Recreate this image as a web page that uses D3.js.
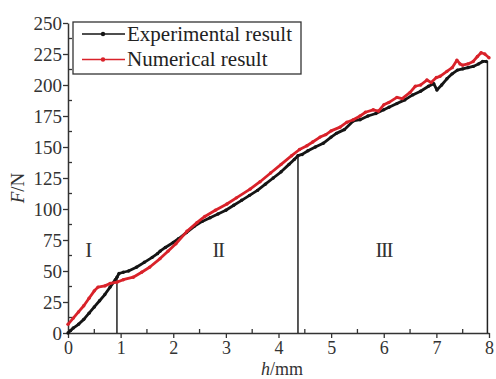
<!DOCTYPE html>
<html>
<head>
<meta charset="utf-8">
<script src="https://cdn.jsdelivr.net/npm/d3@7"></script>
<style>
  body { margin: 0; background: #fff; }
  text { font-family: "Liberation Serif", "Times New Roman", serif; }
</style>
</head>
<body>
<div id="root"></div>
<script>
const WIDTH = 496;
const HEIGHT = 379;
const MARGIN = {top: 23, right: 7, bottom: 46, left: 68};

// experimental curve (h in mm, F in N)
const expH = [0, 0.05, 0.1, 0.2, 0.3, 0.4, 0.5, 0.6, 0.7, 0.8, 0.9, 0.93, 0.97, 1.05, 1.15, 1.3, 1.45, 1.6, 1.7, 1.75, 1.85,
    2.0, 2.1, 2.25, 2.4, 2.55, 2.7, 2.85, 3.0, 3.15, 3.3, 3.45, 3.6, 3.75, 3.9, 4.05, 4.2, 4.3, 4.37, 4.45, 4.56,
    4.7, 4.85, 5.0, 5.1, 5.25, 5.42, 5.55, 5.7, 5.85, 6.0, 6.1, 6.25, 6.4, 6.55, 6.7, 6.85, 6.95, 7.01, 7.1,
    7.2, 7.3, 7.4, 7.5, 7.6, 7.7, 7.8, 7.88, 7.95];
const expF = [0, 2, 4, 7, 11, 16, 21, 26, 31, 37, 43, 45, 48, 49, 50, 53, 57, 61, 64, 66, 69,
    73, 76, 81, 86, 90, 93, 96, 99, 103, 107, 111, 115, 120, 125, 130, 136, 140, 143, 144, 147,
    150, 153, 158, 161, 164, 171, 172, 175, 177, 180, 182, 185, 188, 192, 195, 199, 201, 196, 200,
    205, 209, 212, 213, 214, 215, 217, 219, 219];

// numerical curve
const numH = [0, 0.1, 0.2, 0.3, 0.4, 0.5, 0.57, 0.7, 0.8, 0.93, 1.05, 1.24, 1.4, 1.55, 1.75, 1.9, 2.05, 2.26, 2.45,
    2.6, 2.8, 3.02, 3.2, 3.46, 3.65, 3.85, 4.05, 4.25, 4.4, 4.54, 4.65, 4.79, 4.9, 5.0, 5.17, 5.3, 5.42, 5.55,
    5.65, 5.8, 5.9, 6.0, 6.1, 6.25, 6.35, 6.5, 6.6, 6.7, 6.82, 6.9, 7.0, 7.07, 7.2, 7.3, 7.39, 7.45, 7.5, 7.6,
    7.7, 7.78, 7.85, 7.92, 8.0];
const numF = [7, 12, 17, 22, 28, 34, 37, 38, 40, 41, 43, 45, 49, 53, 60, 66, 72, 82, 89,
    94, 99, 104, 109, 116, 122, 129, 136, 143, 148, 151, 154, 158, 160, 163, 166, 170, 172, 175,
    178, 180, 179, 184, 186, 190, 189, 194, 199, 200, 204, 202, 206, 207, 211, 214, 220, 217, 216, 217,
    219, 223, 226, 225, 222];

// stage boundaries: h and the force where the drop line starts
const boundH = [0.93, 4.37, 7.97];
const boundF = [45, 143, 219];

const stageLabels = ["I", "II", "III"];
const stageH = [0.38, 2.85, 6.0];
const stageF = [67, 67, 67];

const legendNames = ["Experimental result", "Numerical result"];
const colors = ["#151515", "#d9222a"];

const xTicks = [0, 1, 2, 3, 4, 5, 6, 7, 8];
const yTicks = [0, 25, 50, 75, 100, 125, 150, 175, 200, 225, 250];

const x = d3.scaleLinear()
    .domain([0, 8])
    .range([MARGIN.left, WIDTH - MARGIN.right]);

const y = d3.scaleLinear()
    .domain([0, 250])
    .range([HEIGHT - MARGIN.bottom, MARGIN.top]);

const svg = d3.select("#root")
    .append("svg")
    .attr("width", WIDTH)
    .attr("height", HEIGHT);

// minor ticks, pointing inwards
const xMinor = d3.range(0.5, 8, 1);
const yMinor = d3.range(12.5, 250, 25);

svg.append("g")
    .selectAll("line")
    .data(xMinor)
    .join("line")
    .attr("x1", d => x(d)).attr("x2", d => x(d))
    .attr("y1", y(0)).attr("y2", y(0) - 4)
    .attr("stroke", "#333").attr("stroke-width", 1.3);

svg.append("g")
    .selectAll("line")
    .data(yMinor)
    .join("line")
    .attr("x1", x(0)).attr("x2", x(0) + 4)
    .attr("y1", d => y(d)).attr("y2", d => y(d))
    .attr("stroke", "#333").attr("stroke-width", 1.3);

const xAxis = svg.append("g")
    .attr("transform", `translate(0, ${y(0)})`)
    .call(d3.axisBottom(x).tickValues(xTicks).tickSize(5).tickSizeOuter(0).tickPadding(2));

const yAxis = svg.append("g")
    .attr("transform", `translate(${x(0)}, 0)`)
    .call(d3.axisLeft(y).tickValues(yTicks).tickSize(5).tickSizeOuter(0).tickPadding(1));

[xAxis, yAxis].forEach(ax => {
    ax.select(".domain").attr("stroke", "#333").attr("stroke-width", 1.5);
    ax.selectAll(".tick line").attr("stroke", "#333").attr("stroke-width", 1.3);
    ax.selectAll(".tick text")
        .attr("fill", "#333")
        .style("font-family", "'Liberation Serif', serif")
        .style("font-size", "19px");
});
xAxis.selectAll(".tick text").style("font-size", "18px").attr("dy", "0.8em");
yAxis.selectAll(".tick text").attr("dy", "0.34em");

// drop lines at stage boundaries
svg.append("g")
    .selectAll("line")
    .data(boundH)
    .join("line")
    .attr("x1", d => x(d)).attr("x2", d => x(d))
    .attr("y1", (d, i) => y(boundF[i])).attr("y2", y(0))
    .attr("stroke", "#222").attr("stroke-width", 1.5);

const line = d3.line()
    .x(d => x(d[0]))
    .y(d => y(d[1]));

const series = [
    d3.zip(expH, expF),
    d3.zip(numH, numF)
];

series.forEach((pts, i) => {
    svg.append("path")
        .datum(pts)
        .attr("d", line)
        .attr("fill", "none")
        .attr("stroke", colors[i])
        .attr("stroke-width", 2.8)
        .attr("stroke-linejoin", "round");
    svg.append("g")
        .selectAll("circle")
        .data(pts)
        .join("circle")
        .attr("cx", d => x(d[0]))
        .attr("cy", d => y(d[1]))
        .attr("r", 1.7)
        .attr("fill", colors[i]);
});

// stage labels
svg.append("g")
    .selectAll("text")
    .data(stageLabels)
    .join("text")
    .attr("x", (d, i) => x(stageH[i]))
    .attr("y", (d, i) => y(stageF[i]))
    .attr("text-anchor", "middle")
    .attr("dy", "0.35em")
    .style("font-size", "21px")
    .style("letter-spacing", "-1.5px")
    .attr("fill", "#333")
    .text(d => d);

// axis titles
const xTitle = svg.append("text")
    .attr("x", 282)
    .attr("y", 375)
    .attr("text-anchor", "middle")
    .style("font-size", "18px")
    .attr("fill", "#333");
xTitle.append("tspan").style("font-style", "italic").text("h");
xTitle.append("tspan").text("/mm");

const yTitle = svg.append("text")
    .attr("transform", "translate(24, 188) rotate(-90)")
    .attr("text-anchor", "middle")
    .style("font-size", "19px")
    .attr("fill", "#333");
yTitle.append("tspan").style("font-style", "italic").text("F");
yTitle.append("tspan").text("/N");

// legend
const legend = svg.append("g");
legend.append("rect")
    .attr("x", 73).attr("y", 22)
    .attr("width", 228).attr("height", 52)
    .attr("fill", "#fff")
    .attr("stroke", "#333").attr("stroke-width", 1.3);

legendNames.forEach((name, i) => {
    const cy = 34 + i * 25.5;
    legend.append("line")
        .attr("x1", 82).attr("x2", 125)
        .attr("y1", cy).attr("y2", cy)
        .attr("stroke", colors[i]).attr("stroke-width", 1.5);
    legend.append("circle")
        .attr("cx", 103).attr("cy", cy).attr("r", 2.2)
        .attr("fill", colors[i]);
    legend.append("text")
        .attr("x", 127).attr("y", cy)
        .attr("dy", "0.33em")
        .style("font-size", "21px")
        .attr("fill", "#222")
        .text(name);
});
</script>
</body>
</html>
